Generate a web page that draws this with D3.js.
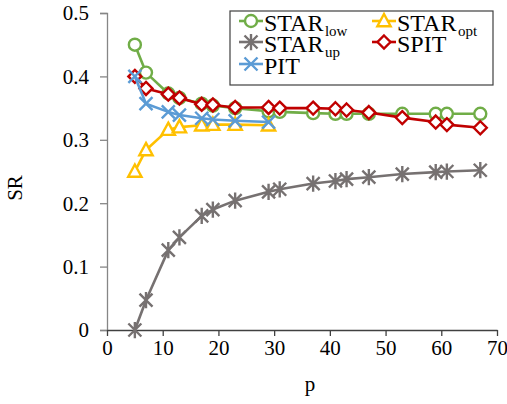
<!DOCTYPE html>
<html><head><meta charset="utf-8">
<script src="https://cdn.jsdelivr.net/npm/d3@7"></script>
<style>body{margin:0;background:#fff}svg{display:block}
svg text{font-family:"Liberation Serif","Times New Roman",serif;}
</style>
</head><body><svg id="c" width="507" height="404"></svg>
<script>
const pAll = [5,7,11,13,17,19,23,29,31,37,41,43,47,53,59,61,67];
const pShort = [5,7,11,13,17,19,23,29];
const starLow = [0.450,0.406,0.373,0.366,0.357,0.354,0.350,0.345,0.344,0.342,0.341,0.341,0.341,0.341,0.341,0.341,0.341];
const starUp  = [0.000,0.047,0.126,0.146,0.180,0.190,0.204,0.218,0.222,0.231,0.235,0.238,0.241,0.246,0.249,0.250,0.252];
const starOpt = [0.250,0.284,0.316,0.320,0.323,0.324,0.324,0.323];
const pit     = [0.400,0.357,0.344,0.339,0.334,0.332,0.330,0.328];
const spit    = [0.400,0.381,0.372,0.366,0.356,0.355,0.351,0.351,0.350,0.350,0.349,0.347,0.343,0.335,0.328,0.324,0.319];
const xTicks = [0,10,20,30,40,50,60,70];
const yTicks = [0,0.1,0.2,0.3,0.4,0.5];

const series = [
  {name:"STAR", sub:"low", x:pAll, y:starLow, color:"#70AD47", marker:"circle"},
  {name:"STAR", sub:"opt", x:pShort, y:starOpt, color:"#FFC000", marker:"triangle"},
  {name:"STAR", sub:"up", x:pAll, y:starUp, color:"#767171", marker:"star"},
  {name:"SPIT", sub:"", x:pAll, y:spit, color:"#C00000", marker:"diamond"},
  {name:"PIT", sub:"", x:pShort, y:pit, color:"#5B9BD5", marker:"x"}
];

const svg = d3.select("#c");
const x = d3.scaleLinear().domain([0,70]).range([107,497]);
const y = d3.scaleLinear().domain([0,0.5]).range([330,13]);

const ya = svg.append("g").attr("transform","translate(107,0)")
  .call(d3.axisLeft(y).tickValues(yTicks).tickSize(7).tickFormat(d=>d===0?"0":d3.format(".1f")(d)));
ya.attr("font-family",null);
ya.select(".domain").attr("stroke","#868686").attr("stroke-width",1.3);
ya.selectAll(".tick line").attr("stroke","#868686").attr("stroke-width",1.3);
ya.selectAll(".tick text").attr("font-size",21).attr("fill","#000").attr("x",-18).attr("dy","0.33em");

const xa = svg.append("g").attr("transform","translate(0,330)")
  .call(d3.axisBottom(x).tickValues(xTicks).tickSize(6).tickSizeOuter(0));
xa.attr("font-family",null);
xa.select(".domain").attr("stroke","#404040").attr("stroke-width",1.3);
xa.selectAll(".tick line").attr("stroke","#404040").attr("stroke-width",1.3);
xa.selectAll(".tick text").attr("font-size",21).attr("fill","#000").attr("y",10).attr("dy","0.71em");

svg.append("text").attr("x",310).attr("y",391).attr("text-anchor","middle")
  .attr("font-size",21).text("p");
svg.append("text").attr("transform","translate(22,188) rotate(-90)").attr("text-anchor","middle")
  .attr("font-size",21).text("SR");

function drawMarker(g, type, cx, cy, color){
  const sw = 2.4;
  if(type==="circle"){
    g.append("circle").attr("cx",cx).attr("cy",cy).attr("r",6).attr("fill","#fff").attr("stroke",color).attr("stroke-width",sw);
  } else if(type==="triangle"){
    const s=7;
    g.append("path").attr("d",`M${cx},${cy-s}L${cx+s*0.95},${cy+s*0.75}L${cx-s*0.95},${cy+s*0.75}Z`)
      .attr("fill","#fff").attr("stroke",color).attr("stroke-width",sw).attr("stroke-linejoin","miter");
  } else if(type==="diamond"){
    const s=6.5;
    g.append("path").attr("d",`M${cx},${cy-s}L${cx+s},${cy}L${cx},${cy+s}L${cx-s},${cy}Z`)
      .attr("fill","#fff").attr("stroke",color).attr("stroke-width",sw);
  } else if(type==="star"){
    const s=6.5;
    g.append("path").attr("d",`M${cx-s},${cy-s}L${cx+s},${cy+s}M${cx-s},${cy+s}L${cx+s},${cy-s}M${cx},${cy-s*1.25}L${cx},${cy+s*1.25}`)
      .attr("stroke",color).attr("stroke-width",sw).attr("fill","none");
  } else if(type==="x"){
    const s=6.5;
    g.append("path").attr("d",`M${cx-s},${cy-s}L${cx+s},${cy+s}M${cx-s},${cy+s}L${cx+s},${cy-s}`)
      .attr("stroke",color).attr("stroke-width",sw).attr("fill","none");
  }
}

const line = d3.line().x(d=>x(d[0])).y(d=>y(d[1]));
series.forEach(s=>{
  const pts = s.x.map((v,i)=>[v,s.y[i]]);
  const g = svg.append("g");
  g.append("path").attr("d",line(pts)).attr("fill","none").attr("stroke",s.color).attr("stroke-width",2.6).attr("stroke-linejoin","round");
  pts.forEach(p=>drawMarker(g, s.marker, x(p[0]), y(p[1]), s.color));
});

const lg = svg.append("g");
lg.append("rect").attr("x",230).attr("y",11).attr("width",263).attr("height",74)
  .attr("fill","#fff").attr("stroke","#404040").attr("stroke-width",1.2);
const pos = [[239,21],[372,21],[239,42],[372,42],[239,64]];
series.forEach((s,i)=>{
  const [lx,ly]=pos[i];
  lg.append("line").attr("x1",lx).attr("x2",lx+24).attr("y1",ly).attr("y2",ly).attr("stroke",s.color).attr("stroke-width",2.6);
  drawMarker(lg, s.marker, lx+12, ly, s.color);
  const t = lg.append("text").attr("x",lx+25).attr("y",ly+10).attr("font-size",24).attr("fill","#000").text(s.name);
  if(s.sub){
    const bb = t.node().getBBox();
    lg.append("text").attr("x",bb.x+bb.width+1.5).attr("y",ly+15).attr("font-size",15).attr("fill","#000").text(s.sub);
  }
});
</script></body></html>
